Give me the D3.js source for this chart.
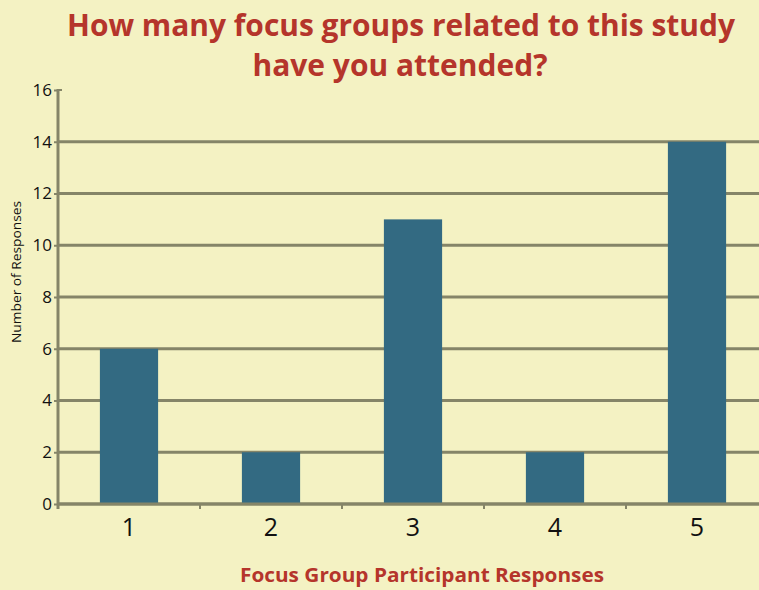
<!DOCTYPE html>
<html lang="en">
<head>
<meta charset="UTF-8">
<title>Focus groups attended</title>
<script src="https://cdn.jsdelivr.net/npm/d3@7/dist/d3.min.js"></script>
<style>
   body { margin: 0; background: #f4f2c3; }
   #chart text { font-family: "Open Sans", "Liberation Sans", sans-serif; }
   .title { fill: #b5352b; font-weight: bold; font-size: 31px; }
   .axisY text { fill: #111; font-size: 17px; }
   .axisX text { fill: #111; font-size: 25px; }
</style>
</head>
<body>
<div id="chart"></div>
<script>
   var categories = ["1", "2", "3", "4", "5"];
   var responses = [6, 2, 11, 2, 14];
   var yTicks = [0, 2, 4, 6, 8, 10, 12, 14, 16];

   var svg = d3.select("#chart").append("svg")
      .attr("width", 759).attr("height", 590);

   svg.append("rect").attr("width", 759).attr("height", 590).attr("fill", "#f4f2c3");

   var plotLeft = 58, plotTop = 90, plotBottom = 504;
   var x = d3.scaleBand().domain(categories).range([plotLeft, 768])
      .paddingInner(0.59).paddingOuter(0.295);
   var y = d3.scaleLinear().domain([0, 16]).range([plotBottom, plotTop]);

   var gridColor = "#858568";

   // horizontal grid
   svg.selectAll(".grid").data(yTicks.slice(0, -1)).enter().append("line")
      .attr("x1", plotLeft).attr("x2", 759)
      .attr("y1", function(d) { return y(d); })
      .attr("y2", function(d) { return y(d); })
      .attr("stroke", gridColor).attr("stroke-width", 3);

   // y axis
   var gy = svg.append("g")
      .attr("class", "axisY")
      .attr("transform", "translate(" + plotLeft + ",0)")
      .call(d3.axisLeft(y).tickValues(yTicks).tickSize(4).tickPadding(2));
   gy.select(".domain").remove();
   gy.selectAll("line").attr("stroke", gridColor).attr("stroke-width", 2);
   gy.append("line").attr("x1", 0).attr("x2", 4).attr("y1", plotTop).attr("y2", plotTop)
      .attr("stroke", gridColor).attr("stroke-width", 2);
   svg.append("line").attr("x1", plotLeft).attr("x2", plotLeft)
      .attr("y1", plotTop - 1).attr("y2", plotBottom + 5)
      .attr("stroke", gridColor).attr("stroke-width", 3);

   // bars
   svg.selectAll(".bar").data(responses).enter().append("rect")
      .attr("class", "bar")
      .attr("x", function(d, i) { return x(categories[i]); })
      .attr("y", function(d) { return y(d); })
      .attr("width", x.bandwidth())
      .attr("height", function(d) { return plotBottom - y(d); })
      .attr("fill", "#336a82");

   // x axis
   var gx = svg.append("g")
      .attr("class", "axisX")
      .attr("transform", "translate(0," + plotBottom + ")")
      .call(d3.axisBottom(x).tickSize(0).tickPadding(13));
   gx.select(".domain").remove();
   gx.selectAll("text").attr("dy", "0.75em");
   var step = x.step();
   svg.selectAll(".xtick").data(categories).enter().append("line")
      .attr("x1", function(d) { return x(d) - (step - x.bandwidth()) / 2; })
      .attr("x2", function(d) { return x(d) - (step - x.bandwidth()) / 2; })
      .attr("y1", plotBottom).attr("y2", plotBottom + 5)
      .attr("stroke", gridColor).attr("stroke-width", 2);
   svg.append("line").attr("x1", plotLeft).attr("x2", 759)
      .attr("y1", plotBottom).attr("y2", plotBottom)
      .attr("stroke", gridColor).attr("stroke-width", 3);

   // titles
   svg.append("text").attr("class", "title").attr("x", 401).attr("y", 36)
      .attr("text-anchor", "middle")
      .attr("textLength", 668).attr("lengthAdjust", "spacingAndGlyphs")
      .text("How many focus groups related to this study");
   svg.append("text").attr("class", "title").attr("x", 400).attr("y", 76)
      .attr("text-anchor", "middle")
      .attr("textLength", 295).attr("lengthAdjust", "spacingAndGlyphs")
      .text("have you attended?");
   svg.append("text").attr("x", 422).attr("y", 582)
      .attr("text-anchor", "middle").attr("fill", "#b5352b")
      .attr("font-weight", "bold").attr("font-size", "19px")
      .attr("textLength", 364).attr("lengthAdjust", "spacingAndGlyphs")
      .text("Focus Group Participant Responses");
   svg.append("text")
      .attr("transform", "translate(21,272) rotate(-90)")
      .attr("text-anchor", "middle").attr("fill", "#111")
      .attr("font-size", "13px")
      .attr("textLength", 142).attr("lengthAdjust", "spacingAndGlyphs")
      .text("Number of Responses");
</script>
</body>
</html>
